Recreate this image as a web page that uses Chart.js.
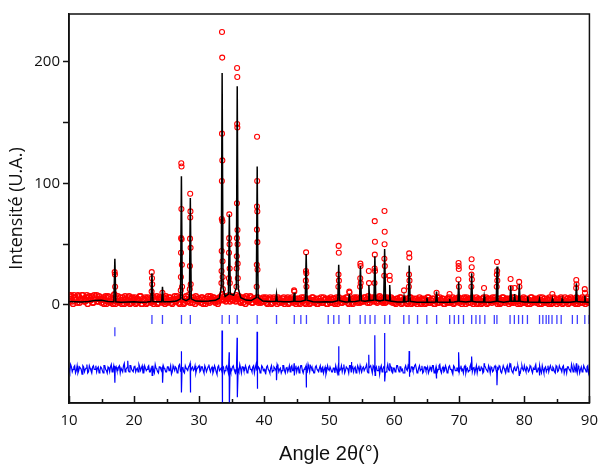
<!DOCTYPE html>
<html><head><meta charset="utf-8">
<script src="https://cdn.jsdelivr.net/npm/chart.js@4.4.1/dist/chart.umd.min.js"></script>
<style>html,body{margin:0;padding:0;background:#fff;}canvas{display:block;}</style>
</head><body>
<canvas id="c" width="607" height="466"></canvas>
<script>
// ---- Data ----
const xTickLabels = [10, 20, 30, 40, 50, 60, 70, 80, 90];
const yTickValues = [0, 50, 100, 150, 200];
const yTickLabels = [0, 100, 200];

// Observed background, two interleaved 2theta grids (step 0.25, starts 10 and 10.125)
const obsStart = 10, obsMidStart = 10.125, obsStep = 0.25;
const obsBg = [
  5,8,3,8,6,2,7,4,8,5,3,8,6,4,7,2,6,8,3,5,
  2,6,4,1,7,3,5,1,6,3,7,2,4,6,1,5,3,7,2,6,
  4,1,5,3,7,1,4,6,2,5,3,6,1,4,7,2,5,3,6,1,
  5,3,6,2,4,7,3,5,1,6,4,2,7,3,5,6,2,4,7,3,
  5,2,6,4,1,5,3,7,4,6,2,5,3,6,8,4,7,5,6,3,
  7,4,6,8,5,3,6,2,5,7,3,4,6,2,5,3,6,4,2,5,
  3,6,1,4,5,2,6,3,1,5,4,2,6,3,5,1,4,6,2,5,
  3,5,1,6,4,2,5,3,1,4,6,2,5,1,3,6,2,4,5,1,
  4,6,2,5,3,1,6,4,2,5,3,6,1,4,2,5,3,6,4,2,
  5,3,6,4,7,2,5,4,6,3,5,7,4,2,6,3,5,4,6,2,
  4,1,5,3,6,2,4,5,1,3,6,2,5,3,1,4,2,5,3,1,
  4,6,2,3,5,1,4,2,6,3,5,1,4,2,5,3,6,2,4,5,
  2,5,3,6,1,4,5,2,6,3,4,1,5,3,2,6,4,1,5,3,
  2,4,6,3,5,1,4,6,2,5,3,5,2,4,6,3,1,5,4,2,
  5,3,1,4,6,2,4,3,5,1,4,6,2,3,5,1,4,2,6,3,
  1,4,3,5,2,6,3,1,4,5,2,3,6,1,4,5,2,4,3,6,
  3
];
const obsBgMid = [
  3,7,1,6,4,8,2,5,8,3,6,1,7,4,2,8,5,3,7,4,
  5,1,7,3,6,2,4,8,1,5,3,6,1,4,7,2,6,1,5,3,
  6,2,4,7,1,5,3,1,6,4,2,7,3,5,1,6,4,2,5,7,
  2,6,4,1,5,3,7,2,6,4,1,5,3,8,2,4,6,1,5,3,
  4,6,1,5,3,7,2,5,6,3,4,1,6,4,5,7,3,6,8,5,
  4,6,3,5,7,2,4,6,1,5,3,7,2,5,4,6,2,5,3,6,
  5,2,4,6,1,5,3,4,6,2,3,5,1,4,6,2,5,3,4,1,
  5,2,4,3,6,1,4,5,2,6,3,4,1,5,3,2,6,4,1,5,
  2,4,5,1,6,3,4,2,5,3,6,2,4,5,1,6,4,2,5,3,
  3,6,4,2,5,4,6,3,5,2,6,4,3,5,2,6,4,3,5,4,
  2,5,3,6,1,4,5,2,3,6,1,4,2,5,3,6,1,4,5,2,
  6,2,4,5,1,3,6,2,4,5,1,3,5,6,2,4,1,5,3,6,
  4,1,5,3,6,2,4,5,1,3,6,2,4,1,5,3,6,2,4,5,
  6,3,4,1,5,2,6,3,4,5,1,3,6,2,4,5,3,1,4,6,
  2,5,4,1,6,3,5,2,4,6,1,3,5,2,4,6,1,5,3,4,
  5,2,6,1,4,3,5,2,6,3,4,1,5,3,2,6,4,1,5,2
];

// Observed points on the peaks [2theta, intensity]
const obsPeaks = [
  [17.02,27],[17.06,25],[17.09,15],[16.99,9],
  [22.72,27],[22.76,22],[22.79,17],[22.70,11],
  [24.36,10],
  [27.26,116.6],[27.30,114],[27.28,79],[27.24,55],[27.32,54],[27.22,43],[27.35,33],[27.20,23],[27.38,15],[27.18,12],
  [28.63,91.6],[28.67,77],[28.64,72],[28.61,54.6],[28.69,47],[28.59,32],[28.71,17],[28.57,13],
  [33.52,224.7],[33.55,203.6],[33.52,141],[33.57,119],[33.50,102],[33.49,70.8],[33.58,69],[33.47,44.4],[33.60,36],[33.45,28],[33.62,23],[33.43,18],[33.65,13],
  [34.64,74.6],[34.62,55],[34.68,50],[34.60,43],[34.70,30],[34.58,22],[34.72,18],
  [35.84,195],[35.87,187.6],[35.85,149],[35.88,146],[35.82,83.7],[35.90,61.7],[35.81,55],[35.91,50],[35.79,40],[35.93,34],[35.77,30],[35.95,22],[35.74,15],
  [38.91,138.5],[38.93,102],[38.90,81],[38.95,77],[38.89,62],[38.96,51.7],[38.87,33],[38.98,29],[38.85,15],
  [44.60,12],[44.64,11],
  [46.45,43.3],[46.43,28],[46.48,26],[46.41,20],[46.50,15],
  [51.45,48.6],[51.47,43],[51.43,25],[51.49,20],[51.41,15],
  [53.08,11],[53.12,10],
  [54.79,34],[54.82,32],[54.77,22],[54.84,18],[54.75,15],
  [56.09,28],[56.12,18],
  [57.00,69],[57.03,52],[57.01,41.4],[56.98,30],[57.05,28],[56.96,18],
  [58.50,77.4],[58.53,60.3],[58.51,50],[58.48,38],[58.55,32],[58.46,24],
  [59.29,24],[59.32,20.5],
  [61.50,12],
  [62.29,42.5],[62.32,39],[62.27,25],[62.34,20],[62.25,15],
  [66.50,10],
  [68.50,9],
  [69.88,34.5],[69.90,32],[69.92,29.6],[69.86,21],[69.94,15],
  [71.89,37.6],[71.91,31],[71.87,25],[71.93,21],[71.85,15],
  [73.80,14],
  [75.79,35.4],[75.82,28],[75.77,25],[75.84,20],[75.75,15],
  [77.88,21.4],[77.92,14],
  [78.50,14],
  [79.20,19],[79.24,15],
  [84.30,9],
  [87.98,20.6],[88.02,17],[87.96,14],
  [89.28,13],[89.32,10]
];

// Calculated profile [2theta, intensity]
const calcProfile = [
  [10,2.8],[11,2.6],[12,2.5],[13,2.9],[14,3.6],[15,3.8],[16,2.9],[16.9,2.6],[17.05,38],[17.2,2.6],
  [18,2.2],[19,2.4],[20,2.6],[21,2.3],[22,2.5],[22.6,2.8],[22.75,26],[22.9,2.8],[23.5,2.6],
  [24.25,2.7],[24.37,15],[24.5,2.7],[25.5,2.6],[26.5,3.2],[27.14,5],[27.28,106],[27.42,5],
  [28.0,3.6],[28.51,5],[28.65,88],[28.79,5],[29.5,3.2],[30.5,3.0],[31.5,3.2],[32.5,3.8],
  [33.1,5.5],[33.4,14],[33.54,191],[33.68,14],[34.0,7],[34.51,9],[34.65,74.6],[34.79,9],
  [35.3,8],[35.72,14],[35.86,180],[36.0,14],[36.4,6],[37.2,4],[38.0,3.6],[38.79,6],[38.93,114],
  [39.07,6],[39.8,3.2],[40.8,2.8],[41.78,3],[41.9,9],[42.02,3],[43,2.6],[44.0,2.6],[44.5,3],
  [44.62,10],[44.74,3],[45.6,2.8],[46.32,4],[46.46,42],[46.6,4],[47.5,2.6],[48.5,2.4],[49.5,2.6],
  [50.5,2.5],[51.32,3.5],[51.46,33],[51.6,3.5],[52.5,2.4],[52.98,2.6],[53.1,9],[53.22,2.6],
  [54,2.8],[54.66,3.5],[54.8,32],[54.94,3.5],[55.5,3.0],[55.98,3.5],[56.1,16.5],[56.22,3.5],
  [56.88,4],[57.02,40],[57.16,4],[57.8,3.2],[58.38,4],[58.52,46],[58.66,4],[59.2,3.5],[59.3,16.5],
  [59.42,3.2],[60.5,2.5],[61.38,2.5],[61.5,7],[61.62,2.5],[62.16,3],[62.3,32.4],[62.44,3],
  [63.5,2.3],[64.5,2.2],[64.92,2.3],[65.02,6],[65.12,2.3],[66.38,2.5],[66.5,11],[66.62,2.5],
  [67.5,2.2],[68.42,2.3],[68.52,5],[68.62,2.3],[69.2,2.5],[69.78,3],[69.9,19],[70.02,3],[71,2.4],
  [71.78,3],[71.9,26],[72.02,3],[72.6,2.5],[73.72,2.5],[73.82,7],[73.92,2.5],[74.8,2.3],[75.68,3],
  [75.8,31.6],[75.92,3],[76.8,2.3],[77.78,3],[77.9,15.6],[78.02,3],[78.4,3],[78.5,9],[78.6,3],
  [79.1,3],[79.22,17],[79.34,3],[80.0,2.4],[80.42,2.4],[80.52,7],[80.62,2.4],[81.3,2.2],[82.22,2.2],
  [82.32,5],[82.42,2.2],[83.2,2.1],[84.2,2.2],[84.3,5],[84.4,2.2],[85.7,2.2],[85.8,5],[85.9,2.2],
  [87,2.3],[87.88,2.8],[88.0,17.8],[88.12,2.8],[88.8,2.4],[89.2,2.4],[89.3,7.6],[89.4,2.4],[90,2.2]
];

// Bragg positions (two phases)
const braggPhase1 = [22.75,24.37,27.29,28.65,33.54,34.65,35.86,38.93,41.9,44.63,45.64,46.5,49.85,50.7,
  51.49,53.12,54.76,55.52,56.28,57.03,58.54,59.3,61.46,62.27,63.58,65.0,66.51,68.52,69.23,69.89,
  70.64,71.9,72.56,73.16,73.92,75.38,75.78,77.8,78.46,79.11,79.72,80.47,82.33,82.84,83.35,83.75,
  84.25,85.0,85.66,87.38,88.14,89.29,89.95];
const braggPhase2 = [17.05];
const braggRow1 = -12, braggRow2 = -22;

// Difference curve: two interleaved grids (step 0.25) plus sharp residuals at peaks
const diffStart = 10, diffMidStart = 10.125, diffStep = 0.25;
const diffY = [
  -52,-49,-55,-51,-56,-50,-54,-52,-57,-51,-53,-49,-55,-52,-56,-50,-53,-55,-51,-54,
  -52,-56,-50,-54,-51,-55,-49,-53,-56,-51,-54,-50,-52,-55,-48,-53,-51,-55,-50,-54,
  -51,-55,-52,-49,-54,-50,-56,-52,-53,-50,-55,-51,-54,-49,-53,-56,-51,-54,-50,-53,
  -55,-51,-53,-57,-50,-54,-52,-55,-49,-53,-51,-56,-52,-54,-50,-55,-51,-53,-56,-52,
  -50,-54,-51,-56,-52,-53,-49,-55,-51,-54,-52,-57,-50,-53,-55,-51,-54,-50,-56,-52,
  -54,-50,-55,-52,-53,-49,-56,-51,-54,-52,-55,-50,-53,-51,-56,-49,-54,-52,-55,-51,
  -53,-56,-50,-54,-52,-55,-51,-53,-49,-55,-52,-54,-50,-56,-51,-53,-55,-50,-54,-52,
  -55,-51,-53,-50,-56,-52,-54,-49,-55,-51,-53,-56,-50,-54,-52,-55,-51,-53,-57,-50,
  -54,-51,-55,-52,-50,-56,-51,-53,-55,-49,-54,-52,-56,-50,-53,-55,-51,-54,-52,-50,
  -55,-51,-54,-49,-56,-52,-53,-50,-55,-51,-54,-57,-50,-53,-52,-55,-49,-54,-51,-56,
  -52,-54,-50,-55,-51,-53,-56,-50,-54,-52,-55,-51,-53,-49,-56,-52,-54,-50,-55,-51,
  -53,-56,-51,-54,-50,-55,-52,-53,-49,-56,-51,-54,-52,-55,-50,-53,-57,-51,-54,-52,
  -55,-50,-53,-51,-56,-52,-54,-49,-55,-51,-53,-56,-50,-54,-52,-55,-51,-53,-50,-56,
  -52,-54,-50,-55,-53,-51,-56,-50,-54,-52,-55,-49,-53,-56,-51,-54,-50,-55,-52,-53,
  -50,-55,-52,-54,-51,-56,-53,-49,-55,-52,-54,-50,-56,-51,-53,-55,-50,-54,-52,-56,
  -51,-54,-52,-55,-50,-53,-56,-51,-54,-49,-55,-52,-53,-50,-56,-51,-54,-52,-55,-50,
  -53
];
const diffMid = [
  -55,-51,-53,-50,-54,-56,-51,-53,-50,-55,-52,-56,-50,-54,-51,-53,-50,-52,-56,-51,
  -54,-50,-53,-56,-52,-51,-55,-50,-53,-54,-51,-56,-52,-50,-55,-52,-54,-50,-53,-55,
  -50,-53,-55,-51,-52,-56,-50,-54,-51,-55,-52,-50,-56,-52,-55,-51,-53,-56,-52,-55,
  -51,-54,-50,-55,-52,-51,-56,-50,-54,-52,-55,-50,-53,-51,-56,-52,-54,-50,-53,-51,
  -55,-51,-54,-50,-55,-51,-53,-52,-56,-50,-55,-51,-54,-52,-50,-56,-51,-53,-52,-55,
  -51,-53,-56,-50,-55,-52,-51,-54,-50,-56,-51,-53,-55,-50,-52,-54,-51,-56,-50,-54,
  -55,-51,-53,-56,-50,-54,-52,-55,-51,-53,-56,-50,-54,-52,-55,-50,-51,-54,-56,-50,
  -52,-56,-50,-54,-53,-51,-55,-52,-50,-54,-56,-51,-53,-55,-50,-52,-56,-51,-54,-53,
  -51,-55,-52,-56,-53,-51,-54,-50,-52,-56,-51,-53,-50,-55,-51,-52,-56,-50,-55,-53,
  -52,-54,-51,-55,-52,-50,-56,-51,-53,-54,-50,-52,-55,-51,-56,-52,-53,-50,-55,-52,
  -55,-50,-53,-51,-54,-56,-52,-53,-50,-55,-51,-54,-50,-52,-55,-50,-53,-56,-51,-54,
  -51,-54,-53,-50,-56,-52,-55,-50,-54,-52,-55,-50,-56,-51,-53,-55,-50,-54,-52,-55,
  -52,-54,-56,-50,-53,-55,-51,-53,-52,-56,-50,-52,-54,-51,-56,-50,-53,-55,-52,-51,
  -55,-51,-53,-52,-50,-55,-53,-52,-56,-50,-53,-51,-55,-52,-54,-51,-53,-56,-50,-54,
  -53,-51,-55,-50,-54,-52,-51,-55,-52,-50,-56,-53,-52,-55,-50,-52,-53,-51,-55,-50,
  -55,-50,-53,-51,-56,-52,-51,-53,-55,-52,-50,-54,-56,-52,-53,-55,-50,-53,-51,-56
];
const diffSpikes = [
  [17.03,-50],[17.07,-64],[17.11,-51],
  [19.03,-46],
  [22.73,-50],[22.78,-58],
  [24.35,-52],[24.39,-64],
  [27.26,-38],[27.31,-72],
  [28.62,-48],[28.67,-72],
  [33.52,-21],[33.56,-86],
  [34.62,-39],[34.67,-86],
  [35.84,-27],[35.88,-76],
  [38.91,-22],[38.95,-69],
  [41.88,-50],[41.92,-62],
  [44.61,-48],[44.65,-58],
  [46.44,-50],[46.48,-68],
  [51.44,-34],[51.48,-58],
  [53.38,-47],
  [56.08,-41],
  [57.01,-25],[57.05,-58],
  [58.51,-23],[58.55,-63],
  [59.31,-48],
  [62.29,-38],[62.33,-59],
  [66.49,-60],
  [69.89,-39],
  [71.89,-42.5],
  [73.82,-48],
  [75.79,-66],
  [77.89,-48],
  [79.21,-58],
  [82.31,-58],
  [87.99,-48]
];

// ---- Build datasets ----
const bgPoints = obsBg.map((v, i) => ({x: obsStart + i * obsStep, y: v}))
  .concat(obsBgMid.map((v, i) => ({x: obsMidStart + i * obsStep, y: v})));
const peakPoints = obsPeaks.map(p => ({x: p[0], y: p[1]}));
const calcPoints = calcProfile.map(p => ({x: p[0], y: p[1]}));
const diffPoints = diffY.map((v, i) => ({x: diffStart + i * diffStep, y: v}))
  .concat(diffMid.map((v, i) => ({x: diffMidStart + i * diffStep, y: v})))
  .concat(diffSpikes.map(p => ({x: p[0], y: p[1]})))
  .sort((a, b) => a.x - b.x);
const b1 = braggPhase1.map(x => ({x, y: braggRow1}));
const b2 = braggPhase2.map(x => ({x, y: braggRow2}));

const tickFont = {family: "'Open Sans', 'DejaVu Sans', sans-serif", size: 15};

const framePlugin = {
  id: 'frame',
  afterDraw(chart) {
    const {ctx, chartArea: a, scales} = chart;
    ctx.save();
    ctx.strokeStyle = '#111';
    ctx.lineWidth = 1.5;
    ctx.strokeRect(a.left, a.top, a.right - a.left, a.bottom - a.top);
    const xs = scales.x;
    ctx.beginPath();
    for (let v = xs.min; v <= xs.max + 1e-9; v += 5) {
      const px = Math.round(xs.getPixelForValue(v)) + 0.5;
      const len = (Math.round(v) % 10 === 0) ? 7 : 4;
      ctx.moveTo(px, a.bottom);
      ctx.lineTo(px, a.bottom - len);
    }
    ctx.stroke();
    ctx.restore();
  }
};

new Chart(document.getElementById('c'), {
  type: 'scatter',
  data: {
    datasets: [
      {label: 'calc', data: calcPoints, showLine: true, borderColor: '#000', borderWidth: 1.5,
       pointRadius: 0, tension: 0},
      {label: 'obs peaks', data: peakPoints, showLine: false, borderColor: 'rgb(255,0,0)',
       backgroundColor: 'rgba(0,0,0,0)', pointRadius: 2.5, borderWidth: 1.1},
      {label: 'obs', data: bgPoints, showLine: false, borderColor: 'rgb(255,0,0)',
       backgroundColor: 'rgba(0,0,0,0)', pointRadius: 2.7, borderWidth: 1.3},
      {label: 'bragg1', data: b1, showLine: false, pointStyle: 'line', rotation: 90, pointRadius: 4.5,
       borderColor: 'rgba(0,0,255,0.75)', borderWidth: 1.3},
      {label: 'bragg2', data: b2, showLine: false, pointStyle: 'line', rotation: 90, pointRadius: 4.5,
       borderColor: 'rgba(0,0,255,0.75)', borderWidth: 1.3},
      {label: 'diff', data: diffPoints, showLine: true, borderColor: '#0000ff', borderWidth: 1.2,
       pointRadius: 0, tension: 0}
    ]
  },
  options: {
    responsive: false,
    animation: false,
    devicePixelRatio: 1,
    layout: {padding: {top: 14, right: 8, left: 0, bottom: 0}},
    plugins: {legend: {display: false}, tooltip: {enabled: false}},
    scales: {
      x: {
        type: 'linear', min: 10, max: 90,
        afterBuildTicks: s => { s.ticks = xTickLabels.map(v => ({value: v})); },
        afterFit: s => { s.height = 63; },
        grid: {display: true, drawOnChartArea: false, drawTicks: false},
        border: {display: true, color: '#111', width: 1.5},
        ticks: {padding: 9, color: '#111', font: tickFont, maxRotation: 0},
        title: {display: true, text: 'Angle 2θ(°)', color: '#111',
                font: {family: "'Liberation Sans', Arial, sans-serif", size: 20},
                padding: {top: 0, bottom: 0}}
      },
      y: {
        type: 'linear', min: -80.7, max: 239.5,
        afterBuildTicks: s => { s.ticks = yTickValues.map(v => ({value: v})); },
        afterFit: s => { s.width = 69; },
        grid: {display: true, drawOnChartArea: false, drawTicks: true, tickLength: 6,
               tickColor: '#111', tickWidth: 1.5},
        border: {display: true, color: '#111', width: 1.5},
        ticks: {padding: 3, color: '#111', font: tickFont,
                callback: v => yTickLabels.includes(v) ? String(v) : ''},
        title: {display: true, text: 'Intensité (U.A.)', color: '#111',
                font: {family: "'Open Sans', 'DejaVu Sans', sans-serif", size: 18},
                padding: {top: 6, bottom: 0}}
      }
    }
  },
  plugins: [framePlugin]
});
</script>
</body></html>
